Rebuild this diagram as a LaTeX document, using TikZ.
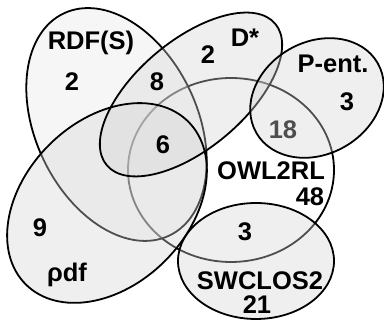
\documentclass[tikz,border=0pt]{standalone}
\usepackage{fontspec}
\setmainfont{Liberation Sans}
\begin{document}
\begin{tikzpicture}[x=1pt,y=1pt,
  setarea/.style={fill=black!16, fill opacity=0.37, draw=black, line width=1.8pt},
  setfillonly/.style={fill=black!16, fill opacity=0.37},
  setline/.style={draw=black, line width=1.8pt},
  lbl/.style={font=\fontsize{25.5}{28}\selectfont\bfseries, inner sep=0pt}]
\fill[white] (0,0) rectangle (384,323);
\useasboundingbox (0,0) rectangle (384,323);
% OWL2RL (drawn first, the other sets lie over it)
\draw[line width=1.8pt] (231,153) ellipse [x radius=103, y radius=92];
\node[lbl] (n18) at (283,193) {18};
% RDF(S)
\path[setarea, fill=black!9.5, shift={(116.5,198.5)}, rotate=-64.6] (0,0) ellipse [x radius=123, y radius=81];
% rho-df and D*: both fills first, then both outlines
\path[setfillonly, shift={(107,120)}, rotate=45] (0,0) ellipse [x radius=115, y radius=82];
\path[setfillonly, shift={(191,228.5)}, rotate=40] (0,0) ellipse [x radius=110, y radius=54];
\path[setline, shift={(191,228.5)}, rotate=40] (0,0) ellipse [x radius=110, y radius=54];
\path[setline, shift={(107,120)}, rotate=45] (0,0) ellipse [x radius=115, y radius=82];
% P-entailment
\path[setarea, shift={(317,225)}, rotate=30] (0,0) ellipse [x radius=70, y radius=56];
% SWCLOS2
\path[setarea] (256,62) ellipse [x radius=78, y radius=58];
% labels
\node[lbl] (rdfs) at (91,280) {RDF(S)};
\node[lbl] (nrdf) at (72,241) {2};
\node[lbl] (n8) at (157,241) {8};
\node[lbl] (nd) at (208,268) {2};
\node[lbl] (dstar) at (245,285) {D*};
\node[lbl] (pent) at (333,259) {P-ent.};
\node[lbl] (npent) at (347,221) {3};
\node[lbl] (n6) at (163,178) {6};
\node[lbl] (owl) at (271,152) {OWL2RL};
\node[lbl] (n48) at (310,126) {48};
\node[lbl] (nsw3) at (245,91) {3};
\node[lbl] (swclos) at (260,42) {SWCLOS2};
\node[lbl] (n21) at (257,18) {21};
\node[lbl] (n9) at (40,95) {9};
\node[lbl] (rhodf) at (67,48) {ρdf};
\end{tikzpicture}
\end{document}
